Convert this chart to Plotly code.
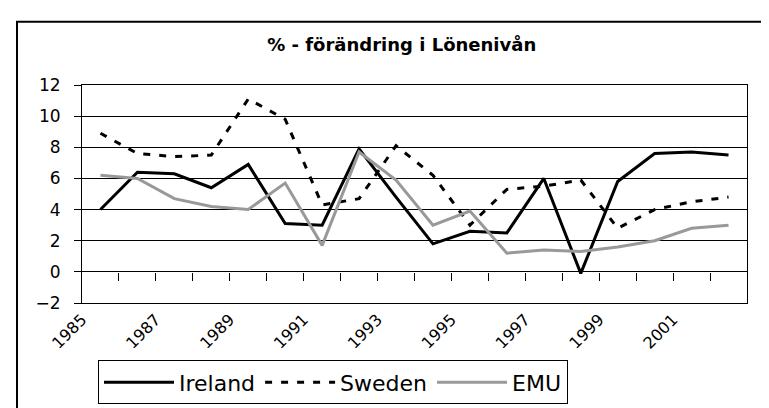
import plotly.graph_objects as go

years = list(range(1985, 2003))
ireland = [4.0, 6.4, 6.3, 5.4, 6.9, 3.1, 3.0, 7.9, 4.8, 1.8, 2.6, 2.5, 6.0, -0.1, 5.8, 7.6, 7.7, 7.5]
sweden = [8.9, 7.6, 7.4, 7.5, 11.1, 9.8, 4.3, 4.7, 8.1, 6.2, 3.0, 5.3, 5.5, 5.9, 2.8, 4.0, 4.5, 4.8]
emu = [6.2, 6.0, 4.7, 4.2, 4.0, 5.7, 1.7, 7.7, 5.9, 3.0, 3.9, 1.2, 1.4, 1.3, 1.6, 2.0, 2.8, 3.0]
label_years = list(range(1985, 2002, 2))
y_ticks = list(range(-2, 13, 2))

title_text = "% - förändring i Lönenivån"
FONT = "DejaVu Sans"

fig = go.Figure()
fig.add_trace(go.Scatter(x=years, y=ireland, name="Ireland", mode="lines",
                         line=dict(color="black", width=3)))
fig.add_trace(go.Scatter(x=years, y=sweden, name="Sweden", mode="lines",
                         line=dict(color="black", width=3, dash="7px,9px")))
fig.add_trace(go.Scatter(x=years, y=emu, name="EMU", mode="lines",
                         line=dict(color="#999999", width=3)))
# invisible trace to activate the secondary x axis (category boundary ticks at y=0)
fig.add_trace(go.Scatter(x=[years[0], years[-1]], y=[0, 0], xaxis="x2", mode="lines",
                         line=dict(width=0), showlegend=False, hoverinfo="skip"))

lo, hi = years[0] - 0.5, years[-1] + 0.5
fig.update_layout(
    width=769, height=408,
    margin=dict(l=74, r=30, t=77, b=107),
    paper_bgcolor="white", plot_bgcolor="white",
    font=dict(family=FONT, color="black", size=17),
    title=dict(text="<b>" + title_text + "</b>", x=0.512, xanchor="center",
               y=1 - 37 / 408, yanchor="middle",
               font=dict(family=FONT, size=18, color="black")),
    xaxis=dict(range=[lo, hi], tickvals=[y - 0.5 for y in label_years],
               ticktext=[str(y) for y in label_years], tickangle=-45,
               showgrid=False, zeroline=False, showline=True, mirror=True,
               linecolor="black", linewidth=1, ticks="",
               tickfont=dict(family=FONT, size=16)),
    xaxis2=dict(range=[lo, hi], overlaying="x", anchor="free", position=2 / 14,
                tickvals=[y + 0.5 for y in years], showticklabels=False,
                ticks="outside", ticklen=8, tickcolor="black", tickwidth=1,
                showgrid=False, zeroline=False, showline=False),
    yaxis=dict(range=[-2, 12], tickvals=y_ticks, showgrid=True, gridcolor="black",
               gridwidth=1, zeroline=False, showline=True, mirror=True,
               linecolor="black", linewidth=1, ticks="outside", ticklen=7,
               tickcolor="black", ticklabelstandoff=10,
               tickfont=dict(family=FONT, size=17)),
    legend=dict(orientation="h", x=(90 - 74) / 665, y=(301 - 360) / 224,
                xanchor="left", yanchor="top", bordercolor="black", borderwidth=1,
                font=dict(family=FONT, size=22), itemwidth=70, bgcolor="white"),
    showlegend=True,
    shapes=[dict(type="rect", xref="paper", yref="paper",
                 x0=(9 - 74) / 665, x1=1.3, y0=-0.8, y1=(301 - 12) / 224,
                 line=dict(color="black", width=2), fillcolor="rgba(0,0,0,0)",
                 layer="below")],
)

fig.write_html("out.html")
